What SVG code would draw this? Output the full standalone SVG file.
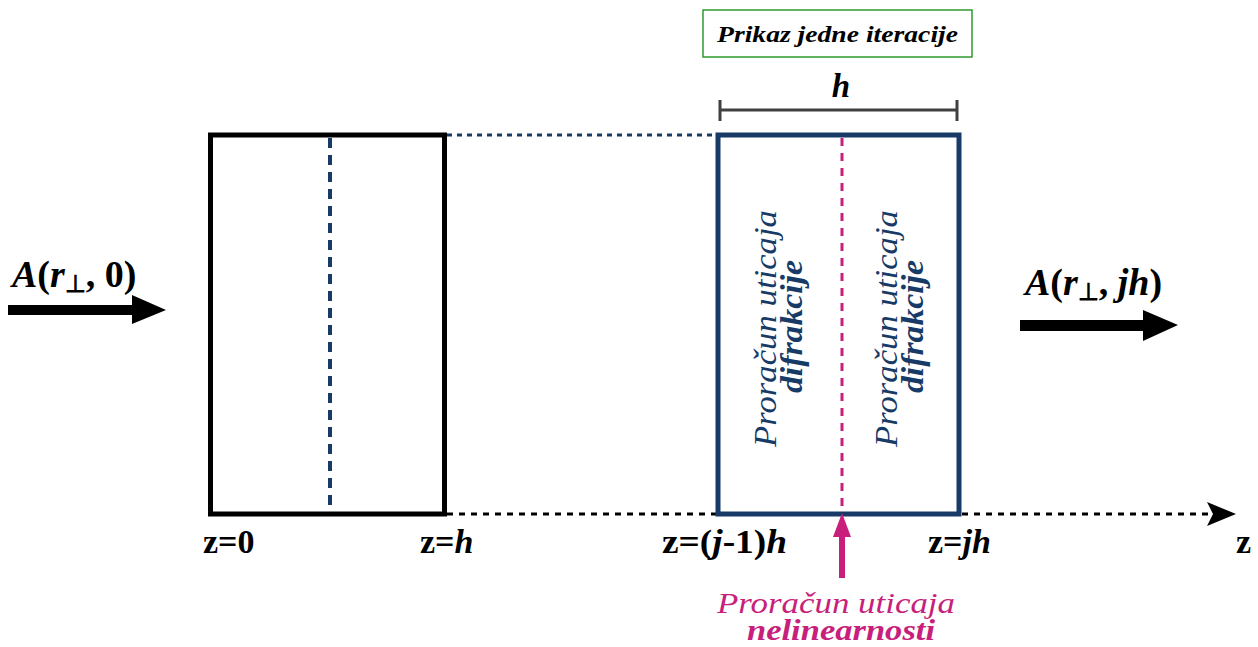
<svg xmlns="http://www.w3.org/2000/svg" width="1258" height="647" viewBox="0 0 1258 647">
<style>
.b{font-weight:bold;}
.i{font-style:italic;}
.navy{fill:#173a66;}
.pink{fill:#c81f7c;}
</style>
<rect width="1258" height="647" fill="#fff"/>
<g id="connectors">
<line x1="447" y1="514" x2="717" y2="514" stroke="#000" stroke-width="3" stroke-dasharray="6 6"/>
<line x1="962" y1="514" x2="1212" y2="514" stroke="#000" stroke-width="3" stroke-dasharray="6 6"/>
<path d="M1207,502 L1236,514 L1207,526 L1213,514 Z" fill="#000"/>
<line x1="447" y1="135" x2="717" y2="135" stroke="#173a66" stroke-width="3" stroke-dasharray="5 5"/>
</g>
<g id="left-box">
<rect x="210.5" y="135" width="234" height="379" fill="none" stroke="#000" stroke-width="5"/>
<line x1="330" y1="138" x2="330" y2="512" stroke="#173a66" stroke-width="4" stroke-dasharray="10 7"/>
</g>
<g id="right-box">
<rect x="718" y="135" width="241" height="379" fill="none" stroke="#173a66" stroke-width="5"/>
<line x1="842" y1="138" x2="842" y2="512" stroke="#c81f7c" stroke-width="3" stroke-dasharray="8 7"/>
<text font-family="Liberation Serif" class="i navy" font-size="31" transform="translate(776,447) rotate(-90)" textLength="237" lengthAdjust="spacingAndGlyphs">Proračun uticaja</text>
<text font-family="Liberation Serif" class="i b navy" font-size="31" transform="translate(802,393) rotate(-90)" textLength="133" lengthAdjust="spacingAndGlyphs">difrakcije</text>
<text font-family="Liberation Serif" class="i navy" font-size="31" transform="translate(897,447) rotate(-90)" textLength="237" lengthAdjust="spacingAndGlyphs">Proračun uticaja</text>
<text font-family="Liberation Serif" class="i b navy" font-size="31" transform="translate(923,393) rotate(-90)" textLength="133" lengthAdjust="spacingAndGlyphs">difrakcije</text>
</g>
<g id="title">
<rect x="703" y="10" width="269" height="47" fill="#fff" stroke="#2e9a2e" stroke-width="1.5"/>
<text font-family="Liberation Serif" class="i b" font-size="24" x="717" y="42" textLength="241" lengthAdjust="spacingAndGlyphs">Prikaz jedne iteracije</text>
</g>
<g id="h-bracket">
<text font-family="Liberation Serif" class="i b" font-size="33" x="841" y="97" text-anchor="middle">h</text>
<path d="M720,110 H957 M720,100 V121 M957,100 V121" stroke="#404040" stroke-width="3" fill="none"/>
</g>
<g id="input-arrow">
<text font-family="Liberation Serif" class="b" font-size="38" x="12" y="287"><tspan class="i">A</tspan>(<tspan class="i">r</tspan><tspan font-size="24" dy="5">⊥</tspan><tspan dy="-5">, 0)</tspan></text>
<path d="M8,305 H132 V295 L166,310 L132,324 V315 H8 Z" fill="#000"/>
</g>
<g id="output-arrow">
<text font-family="Liberation Serif" class="b" font-size="38" x="1025" y="295"><tspan class="i">A</tspan>(<tspan class="i">r</tspan><tspan font-size="24" dy="5">⊥</tspan><tspan dy="-5">, </tspan><tspan class="i">jh</tspan>)</text>
<path d="M1020,320 H1143 V310 L1178,325 L1143,341 V331 H1020 Z" fill="#000"/>
</g>
<g id="nonlinear">
<path d="M839,578 V537 H833 L842,513 L851,537 H845 V578 Z" fill="#c81f7c"/>
<text font-family="Liberation Serif" class="i pink" font-size="30" x="717" y="613" textLength="238" lengthAdjust="spacingAndGlyphs">Proračun uticaja</text>
<text font-family="Liberation Serif" class="i b pink" font-size="30" x="747" y="640" textLength="188" lengthAdjust="spacingAndGlyphs">nelinearnosti</text>
</g>
<g id="labels">
<text font-family="Liberation Serif" class="b" font-size="34" x="203" y="553">z=0</text>
<text font-family="Liberation Serif" class="b" font-size="34" x="420" y="553">z=<tspan class="i">h</tspan></text>
<text font-family="Liberation Serif" class="b" font-size="34" x="662" y="553" textLength="125" lengthAdjust="spacingAndGlyphs">z=(<tspan class="i">j</tspan>-1)<tspan class="i">h</tspan></text>
<text font-family="Liberation Serif" class="b" font-size="34" x="928" y="553">z=<tspan class="i">jh</tspan></text>
<text font-family="Liberation Serif" class="b" font-size="34" x="1236" y="553">z</text>
</g>
</svg>
